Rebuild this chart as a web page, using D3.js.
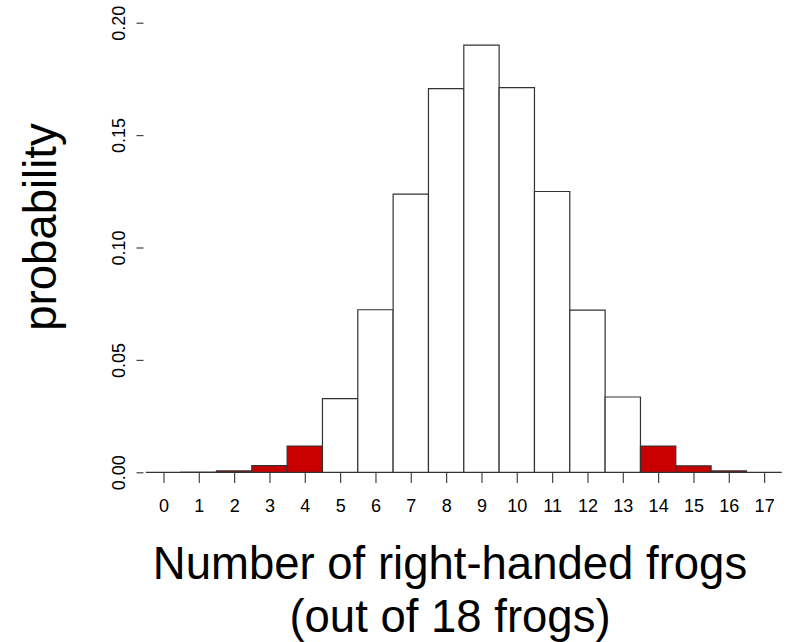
<!DOCTYPE html>
<html>
<head>
<meta charset="utf-8">
<script src="https://cdn.jsdelivr.net/npm/d3@7"></script>
<style>
  html, body { margin: 0; padding: 0; background: #fff; }
  svg { display: block; }
  .tick-label { font-family: "Liberation Sans Narrow", "Arial Narrow", "Liberation Sans", Arial, sans-serif; font-size: 18px; fill: #000; }
  .title { font-family: "Liberation Sans", Arial, Helvetica, sans-serif; font-size: 45.5px; fill: #000; }
</style>
</head>
<body>
<svg id="chart" width="789" height="642"></svg>
<script>
// Number of right-handed frogs out of 18, and the probability of each count
const counts = [0, 1, 2, 3, 4, 5, 6, 7, 8, 9, 10, 11, 12, 13, 14, 15, 16, 17];
const probabilities = [0.0000, 0.0001, 0.0006, 0.0030, 0.0117, 0.0328, 0.0723, 0.1237, 0.1707,
                       0.1900, 0.1711, 0.1249, 0.0721, 0.0335, 0.0117, 0.0029, 0.0006, 0.0000];
// Counts in the tails (as extreme as the observation or more) are highlighted
const tailCounts = [0, 1, 2, 3, 4, 14, 15, 16, 17];
const yTickValues = [0, 0.05, 0.10, 0.15, 0.20];
const xLabel = ["Number of right-handed frogs", "(out of 18 frogs)"];
const yLabel = "probability";

const svg = d3.select("#chart");

const x = d3.scaleLinear().domain([-0.5, 17.5]).range([145.8, 781.8]);
const y = d3.scaleLinear().domain([0, 0.20]).range([472.3, 22.7]);

const data = counts.map((c, i) => ({ count: c, p: probabilities[i] }));

// Bars drawn as closed paths so that zero-height bars still show their outline
svg.append("g")
  .selectAll("path")
  .data(data)
  .join("path")
  .attr("d", d => {
    const p = d3.path();
    const x0 = x(d.count - 0.5), x1 = x(d.count + 0.5);
    p.moveTo(x0, y(0));
    p.lineTo(x0, y(d.p));
    p.lineTo(x1, y(d.p));
    p.lineTo(x1, y(0));
    p.closePath();
    return p.toString();
  })
  .attr("fill", d => tailCounts.includes(d.count) ? "#c90000" : "#ffffff")
  .attr("stroke", "#333")
  .attr("stroke-width", 1.2);

// X axis: ticks only, no domain line
const xAxis = svg.append("g")
  .attr("transform", `translate(0,${y(0) + 0.7})`)
  .call(d3.axisBottom(x).tickValues(counts).tickSize(10).tickPadding(0).tickFormat(d3.format("d")));
xAxis.select(".domain").remove();
xAxis.selectAll(".tick line").attr("stroke", "#444").attr("stroke-width", 1.2);
xAxis.selectAll(".tick text")
  .attr("class", "tick-label")
  .attr("font-family", null).attr("font-size", null)
  .attr("dy", null)
  .attr("y", 39);

// Y axis: short ticks and rotated labels
const yAxis = svg.append("g")
  .attr("transform", "translate(143.5,0)")
  .call(d3.axisLeft(y).tickValues(yTickValues).tickSize(7).tickFormat(d3.format(".2f")));
yAxis.select(".domain").remove();
yAxis.selectAll(".tick line").attr("stroke", "#444").attr("stroke-width", 1.2);
yAxis.selectAll(".tick text")
  .attr("class", "tick-label")
  .attr("font-family", null).attr("font-size", null)
  .attr("x", null).attr("dy", null)
  .attr("text-anchor", "middle")
  .attr("transform", "translate(-18.5,0) rotate(-90)");

// Axis titles
svg.append("text")
  .attr("class", "title")
  .attr("text-anchor", "middle")
  .attr("transform", "translate(56,227) rotate(-90)")
  .text(yLabel);

svg.append("g").selectAll("text")
  .data(xLabel)
  .join("text")
  .attr("class", "title")
  .attr("text-anchor", "middle")
  .attr("x", 450)
  .attr("y", (d, i) => 579.3 + i * 52.5)
  .text(d => d);
</script>
</body>
</html>
